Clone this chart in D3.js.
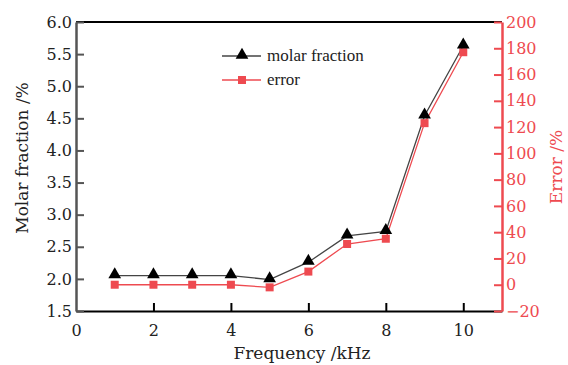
<!DOCTYPE html>
<meta charset="utf-8">
<style>
body { margin: 0; background: #fff; }
text { font-family: "DejaVu Serif", serif; }
</style>
<svg width="568" height="365"></svg>
<script src="https://d3js.org/d3.v7.min.js"></script>
<script>

var freq = [1, 2, 3, 4, 5, 6, 7, 8, 9, 10];
var molar = [2.05, 2.05, 2.05, 2.05, 1.99, 2.26, 2.67, 2.74, 4.54, 5.63];
var errPct = [0, 0, 0, 0, -2, 10, 31, 35, 123, 177];
var xTicks = [0, 2, 4, 6, 8, 10];
var yTicks = [1.5, 2.0, 2.5, 3.0, 3.5, 4.0, 4.5, 5.0, 5.5, 6.0];
var eTicks = [-20, 0, 20, 40, 60, 80, 100, 120, 140, 160, 180, 200];

var red = "#ee4a50";

var svg = d3.select("svg"),
    mLeft = 76, mRight = 502, mTop = 22, mBottom = 311;

var x = d3.scaleLinear().domain([0, 11]).range([mLeft, mRight]);
var y = d3.scaleLinear().domain([1.5, 6]).range([mBottom, mTop]);
var y2 = d3.scaleLinear().domain([-20, 200]).range([mBottom, mTop]);

// top frame line, black
svg.append("line").attr("x1", mLeft).attr("x2", mRight).attr("y1", mTop).attr("y2", mTop)
    .attr("stroke", "#000").attr("stroke-width", 2);

// bottom axis
var gx = svg.append("g").attr("transform", "translate(0," + mBottom + ")")
    .call(d3.axisBottom(x).tickValues(xTicks).tickFormat(d3.format("d")).tickSizeInner(-8).tickSizeOuter(0).tickPadding(14));
gx.select(".domain").attr("stroke", "#000").attr("stroke-width", 2);
gx.selectAll(".tick line").attr("stroke", "#000").attr("stroke-width", 2)
    .filter(d => d === 0).remove();
gx.selectAll(".tick text").attr("font-size", 16).attr("fill", "#222").attr("font-family", "DejaVu Serif");

// left axis
var gy = svg.append("g").attr("transform", "translate(" + mLeft + ",0)")
    .call(d3.axisLeft(y).tickValues(yTicks).tickFormat(d3.format(".1f")).tickSizeInner(-8).tickSizeOuter(0).tickPadding(4));
gy.select(".domain").attr("stroke", "#555").attr("stroke-width", 2.5);
gy.selectAll(".tick line").attr("stroke", "#555").attr("stroke-width", 2);
gy.selectAll(".tick text").attr("font-size", 16).attr("fill", "#222").attr("font-family", "DejaVu Serif");

// right axis
var gr = svg.append("g").attr("transform", "translate(" + mRight + ",0)")
    .call(d3.axisRight(y2).tickValues(eTicks).tickSizeInner(-8).tickSizeOuter(0).tickPadding(4));
gr.select(".domain").attr("stroke", red).attr("stroke-width", 2.5);
gr.selectAll(".tick line").attr("stroke", red).attr("stroke-width", 2);
gr.selectAll(".tick text").attr("font-size", 16).attr("fill", red).attr("font-family", "DejaVu Serif")
    .text(d => d < 0 ? "\u2212" + Math.abs(d) : d);

// lines
var lineM = d3.line().x((d, i) => x(freq[i])).y(d => y(d));
var lineE = d3.line().x((d, i) => x(freq[i])).y(d => y2(d));

svg.append("path").datum(molar).attr("d", lineM)
    .attr("fill", "none").attr("stroke", "#444").attr("stroke-width", 1.3);
svg.append("path").datum(errPct).attr("d", lineE)
    .attr("fill", "none").attr("stroke", red).attr("stroke-width", 1.3);

var tri = d3.symbol().type(d3.symbolTriangle).size(70);
var sq = d3.symbol().type(d3.symbolSquare).size(64);

svg.append("g").selectAll("path").data(errPct).enter().append("path")
    .attr("d", sq)
    .attr("transform", (d, i) => "translate(" + x(freq[i]) + "," + y2(d) + ")")
    .attr("fill", red);

svg.append("g").selectAll("path").data(molar).enter().append("path")
    .attr("d", tri)
    .attr("transform", (d, i) => "translate(" + x(freq[i]) + "," + (y(d) - 1) + ")")
    .attr("fill", "#000");

// legend
var leg = svg.append("g").attr("font-family", "Liberation Serif");
leg.append("line").attr("x1", 222).attr("x2", 261).attr("y1", 56).attr("y2", 56).attr("stroke", "#444").attr("stroke-width", 1.3);
leg.append("path").attr("d", tri).attr("transform", "translate(242,55)").attr("fill", "#000");
leg.append("text").attr("x", 267).attr("y", 61).attr("font-size", 17).attr("fill", "#222")
    .style("font-family", "Liberation Serif").text("molar fraction");
leg.append("line").attr("x1", 222).attr("x2", 261).attr("y1", 80).attr("y2", 80).attr("stroke", red).attr("stroke-width", 1.3);
leg.append("path").attr("d", sq).attr("transform", "translate(242,80)").attr("fill", red);
leg.append("text").attr("x", 267).attr("y", 85).attr("font-size", 17).attr("fill", "#222")
    .style("font-family", "Liberation Serif").text("error");

// axis titles
svg.append("text").attr("transform", "translate(28,158) rotate(-90)")
    .attr("text-anchor", "middle").attr("font-size", 17).attr("fill", "#222").text("Molar fraction /%");
svg.append("text").attr("transform", "translate(562,167) rotate(-90)")
    .attr("text-anchor", "middle").attr("font-size", 17).attr("fill", red).text("Error /%");
svg.append("text").attr("x", 302).attr("y", 359)
    .attr("text-anchor", "middle").attr("font-size", 17).attr("fill", "#222").text("Frequency /kHz");

</script>
